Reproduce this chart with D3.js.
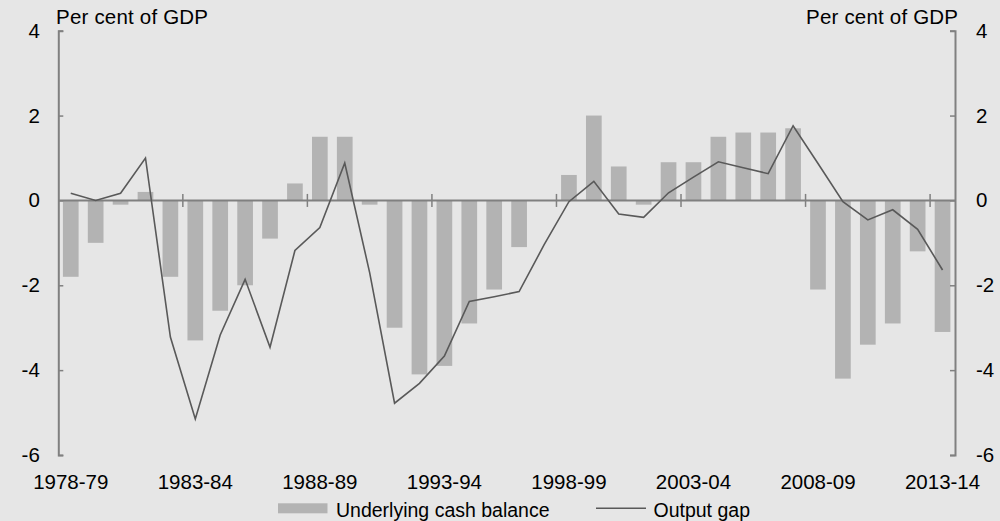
<!DOCTYPE html>
<html><head><meta charset="utf-8">
<script src="https://cdn.jsdelivr.net/npm/d3@7"></script>
<style>
body{margin:0;background:#e6e6e6;}
svg{display:block;font-family:"Liberation Sans",Arial,sans-serif;}
</style></head>
<body>
<svg id="chart" width="1000" height="521"></svg>
<script>
const categories = ["1978-79","1979-80","1980-81","1981-82","1982-83","1983-84","1984-85","1985-86","1986-87","1987-88","1988-89","1989-90","1990-91","1991-92","1992-93","1993-94","1994-95","1995-96","1996-97","1997-98","1998-99","1999-00","2000-01","2001-02","2002-03","2003-04","2004-05","2005-06","2006-07","2007-08","2008-09","2009-10","2010-11","2011-12","2012-13","2013-14"];
const cashBalance = [-1.8,-1.0,-0.1,0.2,-1.8,-3.3,-2.6,-2.0,-0.9,0.4,1.5,1.5,-0.1,-3.0,-4.1,-3.9,-2.9,-2.1,-1.1,0.0,0.6,2.0,0.8,-0.1,0.9,0.9,1.5,1.6,1.6,1.7,-2.1,-4.2,-3.4,-2.9,-1.2,-3.1];
const outputGap = [0.17,0.0,0.17,1.0,-3.22,-5.15,-3.17,-1.86,-3.46,-1.18,-0.64,0.88,-1.7,-4.78,-4.31,-3.67,-2.38,-2.27,-2.15,-1.05,-0.03,0.45,-0.32,-0.40,0.18,0.55,0.91,0.77,0.63,1.76,0.87,-0.03,-0.46,-0.22,-0.68,-1.64];
const yTicks = [4,2,0,-2,-4,-6];
const xLabels = ["1978-79","1983-84","1988-89","1993-94","1998-99","2003-04","2008-09","2013-14"];
const seriesNames = ["Underlying cash balance","Output gap"];
const unitLabel = "Per cent of GDP";

const svg = d3.select("#chart");
const L = 58.3, R = 955, T = 30.7, B = 455;
const axisCol = "#808080", barCol = "#b3b3b3", lineCol = "#595959";
const fs = "19.5px", fsTick = "20.5px";

svg.append("rect").attr("width",1000).attr("height",521).attr("fill","#e6e6e6");

const x = d3.scaleBand().domain(categories).range([L,R]).paddingInner(0.37).paddingOuter(0.185);
const y = d3.scaleLinear().domain([-6,4]).range([B,T]);

// bars
svg.append("g").selectAll("rect").data(categories).join("rect")
  .attr("x",d=>x(d))
  .attr("width",x.bandwidth())
  .attr("y",(d,i)=>y(Math.max(0,cashBalance[i])))
  .attr("height",(d,i)=>Math.abs(y(cashBalance[i])-y(0)))
  .attr("fill",barCol);

const fmt = d => String(d);
// left axis
const leftAxis = d3.axisLeft(y).tickValues(yTicks).tickSize(-5).tickFormat(fmt);
const gl = svg.append("g").attr("transform",`translate(${L},0)`).call(leftAxis);
// right axis
const rightAxis = d3.axisRight(y).tickValues(yTicks).tickSize(-5).tickFormat(fmt);
const gr = svg.append("g").attr("transform",`translate(${R},0)`).call(rightAxis);
[gl,gr].forEach(g=>{
  g.select(".domain").attr("stroke",axisCol).attr("stroke-width",2);
  g.selectAll(".tick line").attr("stroke",axisCol).attr("stroke-width",1.5);
  g.selectAll(".tick text").attr("fill","#000").style("font-size",fsTick).attr("font-family","Liberation Sans, Arial, sans-serif");
});
gl.selectAll(".tick text").attr("x",-18.5).attr("text-anchor","end");
gr.selectAll(".tick text").attr("x",21).attr("text-anchor","start");

// zero line with cross ticks
const step = x.step();
svg.append("line").attr("x1",L).attr("x2",R).attr("y1",y(0)).attr("y2",y(0))
  .attr("stroke",axisCol).attr("stroke-width",2);
const boundaryIdx = d3.range(5,36,5);
svg.append("g").selectAll("line").data(boundaryIdx).join("line")
  .attr("x1",i=>x(categories[i]) - step*0.37/2).attr("x2",i=>x(categories[i]) - step*0.37/2)
  .attr("y1",y(0)-6.5).attr("y2",y(0)+6.5)
  .attr("stroke",axisCol).attr("stroke-width",1.5);

// line
const line = d3.line().x((d,i)=>x(categories[i])+x.bandwidth()/2).y(d=>y(d));
svg.append("path").datum(outputGap).attr("d",line)
  .attr("fill","none").attr("stroke",lineCol).attr("stroke-width",1.6).attr("stroke-linejoin","miter");

// x labels
svg.append("g").selectAll("text").data(xLabels).join("text")
  .attr("x",d=>x(d)+x.bandwidth()/2).attr("y",489)
  .attr("text-anchor","middle").style("font-size",fsTick).text(d=>d);

// unit labels
svg.append("text").attr("x",56).attr("y",24).style("font-size",fsTick)
  .attr("textLength",152).attr("lengthAdjust","spacing").text(unitLabel);
svg.append("text").attr("x",806).attr("y",24).style("font-size",fsTick)
  .attr("textLength",152).attr("lengthAdjust","spacing").text(unitLabel);

// legend
svg.append("rect").attr("x",278).attr("y",503.3).attr("width",49.5).attr("height",10).attr("fill",barCol);
svg.append("text").attr("x",336).attr("y",516.5).style("font-size",fs).text(seriesNames[0]);
svg.append("line").attr("x1",596).attr("x2",646).attr("y1",508.3).attr("y2",508.3).attr("stroke",lineCol).attr("stroke-width",1.6);
svg.append("text").attr("x",653.5).attr("y",516.5).style("font-size",fs).text(seriesNames[1]);
</script>
</body></html>
